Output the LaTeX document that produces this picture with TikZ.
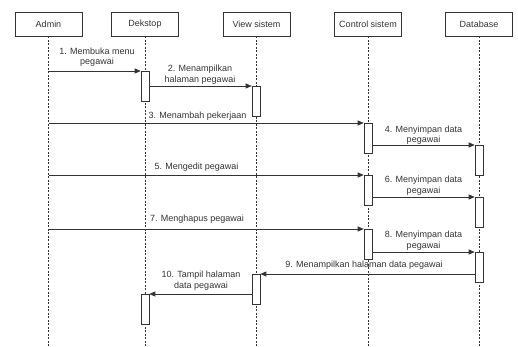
\documentclass[tikz,border=0pt]{standalone}
\usepackage{fontspec}
\setmainfont{Liberation Sans}
\usetikzlibrary{arrows.meta}
\definecolor{ink}{HTML}{333333}
\tikzset{
  x=1pt, y=-1pt,
  every node/.style={font=\fontsize{9}{10.5}\selectfont, text=ink},
  head/.style={draw=ink, fill=white, line width=0.6pt, minimum width=67pt, minimum height=24pt, inner sep=0pt},
  life/.style={draw=ink, line width=0.6pt, dash pattern=on 2pt off 1.5pt},
  act/.style={draw=ink, fill=white, line width=0.6pt, minimum width=8pt, minimum height=30pt, inner sep=0pt},
  msg/.style={draw=ink, line width=0.7pt, -{Triangle[length=6pt,width=5pt]}},
  lbl/.style={align=center, inner sep=0pt}
}
\begin{document}
\begin{tikzpicture}
\useasboundingbox (0,0) rectangle (518,347);

% participants
\node[head] (admin) at (48.5,24) {Admin};
\node[head] (dek) at (145,24) {Dekstop};
\node[head] (view) at (256.5,24) {View sistem};
\node[head] (ctrl) at (368,24) {Control sistem};
\node[head] (db) at (479,24) {Database};

% lifelines
\coordinate (adminEnd) at (48.5,347);
\coordinate (dekEnd) at (145,347);
\coordinate (viewEnd) at (256.5,347);
\coordinate (ctrlEnd) at (368,347);
\coordinate (dbEnd) at (479,347);
\draw[life] (admin.south) -- (adminEnd);
\draw[life] (dek.south) -- (dekEnd);
\draw[life] (view.south) -- (viewEnd);
\draw[life] (ctrl.south) -- (ctrlEnd);
\draw[life] (db.south) -- (dbEnd);

% activations
\node[act, anchor=north] (dekA) at (145,71) {};
\node[act, anchor=north] (viewA) at (256,86) {};
\node[act, anchor=north] (ctrlA) at (368,123) {};
\node[act, anchor=north] (dbA) at (479,145) {};
\node[act, anchor=north] (ctrlB) at (368,175) {};
\node[act, anchor=north] (dbB) at (479,197) {};
\node[act, anchor=north] (ctrlC) at (368,229) {};
\node[act, anchor=north] (dbC) at (479,252) {};
\node[act, anchor=north] (viewB) at (256,274) {};
\node[act, anchor=north] (dekB) at (145,294) {};

% sender points on the Admin lifeline
\coordinate (s1) at (48.5,71);
\coordinate (s3) at (48.5,123);
\coordinate (s5) at (48.5,175);
\coordinate (s7) at (48.5,229);

% messages
\draw[msg] (s1) -- (dekA.north west);
\node[lbl] (m1) at (97,57) {1. Membuka menu\\pegawai};

\draw[msg] (dekA.east |- viewA.north) -- (viewA.north west);
\node[lbl] (m2) at (200,74.5) {2. Menampilkan\\halaman pegawai};

\draw[msg] (s3) -- (ctrlA.north west);
\node[lbl] (m3) at (197.5,116) {3. Menambah pekerjaan};

\draw[msg] (ctrlA.east |- dbA.north) -- (dbA.north west);
\node[lbl] (m4) at (423.5,135) {4. Menyimpan data\\pegawai};

\draw[msg] (s5) -- (ctrlB.north west);
\node[lbl] (m5) at (196.5,167) {5. Mengedit pegawai};

\draw[msg] (ctrlB.east |- dbB.north) -- (dbB.north west);
\node[lbl] (m6) at (423.5,185.5) {6. Menyimpan data\\pegawai};

\draw[msg] (s7) -- (ctrlC.north west);
\node[lbl] (m7) at (197,219) {7. Menghapus pegawai};

\draw[msg] (ctrlC.east |- dbC.north) -- (dbC.north west);
\node[lbl] (m8) at (423.5,240.5) {8. Menyimpan data\\pegawai};

\draw[msg] (dbC.west |- viewB.north) -- (viewB.north east);
\node[lbl] (m9) at (364,265) {9. Menampilkan halaman data pegawai};

\draw[msg] (viewB.west |- dekB.north) -- (dekB.north east);
\node[lbl] (m10) at (201,280.5) {10. Tampil halaman\\data pegawai};
\end{tikzpicture}
\end{document}
